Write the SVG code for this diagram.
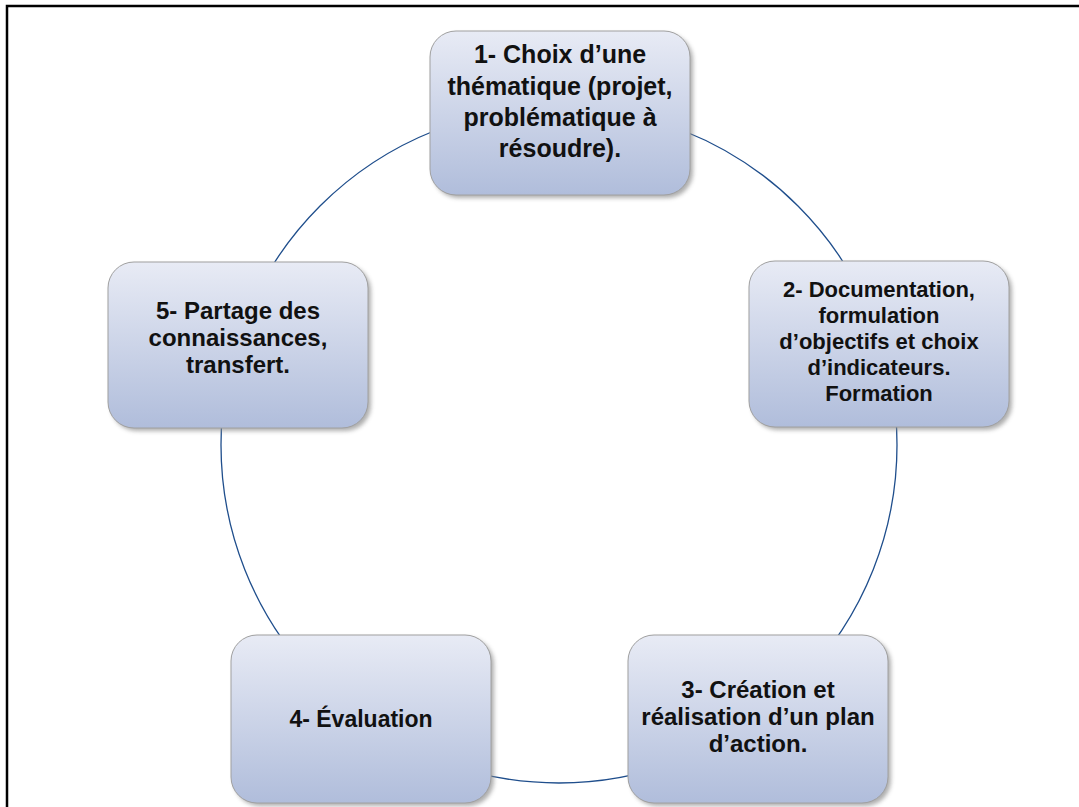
<svg xmlns="http://www.w3.org/2000/svg" width="1079" height="807" viewBox="0 0 1079 807">
<defs>
<linearGradient id="boxg" x1="0" y1="0" x2="0" y2="1">
<stop offset="0" stop-color="#e8ebf5"/>
<stop offset="1" stop-color="#b0bddb"/>
</linearGradient>
<filter id="sh" x="-10%" y="-10%" width="130%" height="130%">
<feGaussianBlur stdDeviation="2"/>
</filter>
</defs>
<style>
.box{fill:url(#boxg);stroke:#a0a0a0;stroke-width:1}
.shadow{fill:#8c8c8c;opacity:0.7;filter:url(#sh)}
.t{font-family:"Liberation Sans",Arial,sans-serif;font-weight:bold;fill:#111;text-anchor:middle}
.conn{fill:none;stroke:#1f4e8c;stroke-width:1.3}
</style>
<rect width="1079" height="807" fill="#fff"/>
<path d="M7,807 V6 H1079" fill="none" stroke="#000" stroke-width="2.5"/>
<g id="connectors">
<circle class="conn" cx="559" cy="445" r="338"/>
</g>
<g id="node1">
<rect class="shadow" x="433" y="34" width="260" height="164" rx="26"/>
<rect class="box" x="430" y="31" width="260" height="164" rx="26"/>
<text class="t" font-size="25" x="560" y="63">1- Choix d’une</text>
<text class="t" font-size="25" x="560" y="95">thématique (projet,</text>
<text class="t" font-size="25" x="560" y="126">problématique à</text>
<text class="t" font-size="25" x="560" y="157">résoudre).</text>
</g>
<g id="node2">
<rect class="shadow" x="752" y="264" width="260" height="166" rx="26"/>
<rect class="box" x="749" y="261" width="260" height="166" rx="26"/>
<text class="t" font-size="22" x="879" y="297">2- Documentation,</text>
<text class="t" font-size="22" x="879" y="323">formulation</text>
<text class="t" font-size="22" x="879" y="349">d’objectifs et choix</text>
<text class="t" font-size="22" x="879" y="375">d’indicateurs.</text>
<text class="t" font-size="22" x="879" y="401">Formation</text>
</g>
<g id="node3">
<rect class="shadow" x="631" y="638" width="260" height="168" rx="26"/>
<rect class="box" x="628" y="635" width="260" height="168" rx="26"/>
<text class="t" font-size="24" x="758" y="698">3- Création et</text>
<text class="t" font-size="24" x="758" y="725">réalisation d’un plan</text>
<text class="t" font-size="24" x="758" y="752">d’action.</text>
</g>
<g id="node4">
<rect class="shadow" x="234" y="638" width="260" height="168" rx="26"/>
<rect class="box" x="231" y="635" width="260" height="168" rx="26"/>
<text class="t" font-size="23" x="361" y="727">4- Évaluation</text>
</g>
<g id="node5">
<rect class="shadow" x="111" y="265" width="260" height="166" rx="26"/>
<rect class="box" x="108" y="262" width="260" height="166" rx="26"/>
<text class="t" font-size="24" x="238" y="319">5- Partage des</text>
<text class="t" font-size="24" x="238" y="346">connaissances,</text>
<text class="t" font-size="24" x="238" y="373">transfert.</text>
</g>
</svg>
